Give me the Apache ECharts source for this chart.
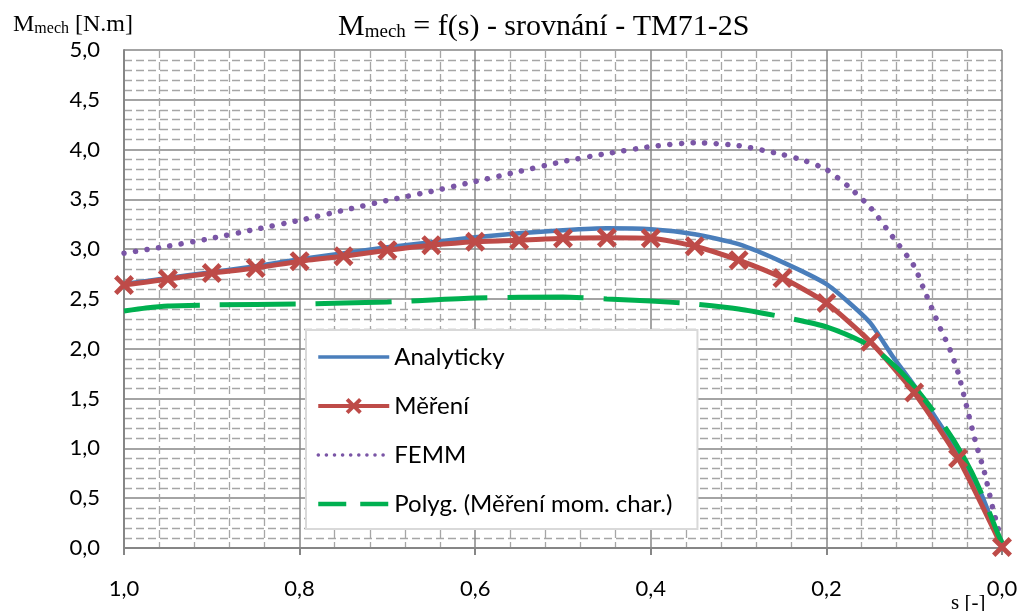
<!DOCTYPE html>
<html>
<head>
<meta charset="utf-8">
<script src="https://cdn.jsdelivr.net/npm/echarts@6/dist/echarts.min.js"></script>
<style>html,body{margin:0;padding:0;background:#fff}#c{width:1023px;height:611px}</style>
</head>
<body>
<div id="c"></div>
<script>
// ---- data ----
const xTicks = [0, 0.2, 0.4, 0.6, 0.8, 1.0];
const yTicks = [0, 0.5, 1, 1.5, 2, 2.5, 3, 3.5, 4, 4.5, 5];

const analytickyS = [1.0,0.95,0.9,0.85,0.8,0.75,0.7,0.65,0.6,0.55,0.5,0.45,0.4,0.35,0.3,0.25,0.2,0.175,0.15,0.125,0.1,0.075,0.05,0.025,0.0];
const analytickyM = [2.65,2.71,2.77,2.83,2.90,2.96,3.02,3.07,3.12,3.16,3.19,3.21,3.20,3.15,3.05,2.87,2.65,2.47,2.26,1.93,1.63,1.30,0.96,0.57,0.0];

const mereniS = [1.0,0.95,0.9,0.85,0.8,0.75,0.7,0.65,0.6,0.55,0.5,0.45,0.4,0.35,0.3,0.25,0.2,0.15,0.1,0.05,0.0];
const mereniM = [2.64,2.70,2.76,2.81,2.88,2.93,2.99,3.04,3.075,3.09,3.11,3.115,3.11,3.03,2.89,2.71,2.46,2.07,1.56,0.90,0.01];

const femmS = [1.0,0.95,0.9,0.85,0.8,0.75,0.7,0.65,0.6,0.55,0.5,0.45,0.4,0.35,0.3,0.25,0.225,0.2,0.175,0.15,0.125,0.1,0.09,0.08,0.07,0.06,0.05,0.04,0.03,0.02,0.01,0.005,0.0];
const femmM = [2.96,3.03,3.11,3.20,3.29,3.39,3.49,3.58,3.68,3.78,3.88,3.96,4.03,4.07,4.04,3.95,3.89,3.80,3.63,3.42,3.13,2.83,2.62,2.41,2.20,2.01,1.76,1.41,1.06,0.76,0.38,0.22,0.02];

const polygS = [1.0,0.975,0.95,0.9,0.8,0.7,0.6,0.5,0.45,0.4,0.35,0.3,0.25,0.2,0.15,0.12,0.1,0.075,0.055,0.035,0.02,0.005,0.0];
const polygM = [2.38,2.41,2.43,2.44,2.45,2.47,2.51,2.52,2.50,2.48,2.45,2.40,2.32,2.22,2.03,1.81,1.62,1.34,1.08,0.77,0.48,0.15,0.05];

const seriesNames = ['Analyticky', 'Měření', 'FEMM', 'Polyg. (Měření mom. char.)'];

function pairs(xs, ys) { return xs.map((x, i) => [x, ys[i]]); }
function fmt(v) { return v.toFixed(1).replace('.', ','); }

const crossPath = 'path://M0,17 L17,0 L50,33 L83,0 L100,17 L67,50 L100,83 L83,100 L50,67 L17,100 L0,83 L33,50 Z';
const sans = 'Lato';
const serif = 'Liberation Serif';

const chart = echarts.init(document.getElementById('c'), null, {renderer: 'canvas'});
chart.setOption({
  animation: false,
  backgroundColor: '#fff',
  title: [
    {
      text: '{m|M}{s|mech}{m| = f(s) - srovnání - TM71-2S}',
      left: 333, top: 3,
      textStyle: {
        rich: {
          m: {fontFamily: serif, fontSize: 30, fontWeight: 'normal', color: '#000', lineHeight: 34, verticalAlign: 'bottom'},
          s: {fontFamily: serif, fontSize: 19, fontWeight: 'normal', color: '#000', lineHeight: 17, verticalAlign: 'bottom'}
        }
      }
    },
    {
      text: '{m|M}{s|mech}{m| [N.m]}',
      left: 8, top: 4,
      textStyle: {
        rich: {
          m: {fontFamily: serif, fontSize: 24, fontWeight: 'normal', color: '#000', lineHeight: 28, verticalAlign: 'bottom'},
          s: {fontFamily: serif, fontSize: 16, fontWeight: 'normal', color: '#000', lineHeight: 14, verticalAlign: 'bottom'}
        }
      }
    },
    {
      text: 's [-]',
      left: 946, top: 588,
      textStyle: {fontFamily: serif, fontSize: 21, fontWeight: 'normal', color: '#000'}
    }
  ],
  grid: {left: 124, right: 21, top: 50, bottom: 63, containLabel: false},
  legend: {
    orient: 'vertical',
    left: 306, top: 330,
    itemWidth: 71, itemHeight: 20, itemGap: 25,
    padding: [15, 25, 13, 10],
    backgroundColor: '#fff',
    borderColor: '#d9d9d9', borderWidth: 2,
    textStyle: {fontFamily: sans, fontSize: 24, color: '#000'},
    data: [
      {name: seriesNames[0], lineStyle: {width: 3.5}, itemStyle: {opacity: 0}},
      {name: seriesNames[1], lineStyle: {width: 4}},
      {name: seriesNames[2], lineStyle: {width: 3.5, type: [0.1, 8], cap: 'round'}, itemStyle: {opacity: 0}},
      {name: seriesNames[3], lineStyle: {width: 4.5, type: [28, 14]}, itemStyle: {opacity: 0}}
    ]
  },
  xAxis: {
    type: 'value', min: 0, max: 1, interval: 0.2, inverse: true,
    axisLine: {show: true, onZero: false, lineStyle: {color: '#868686', width: 2}},
    axisTick: {show: true, inside: false, length: 7, lineStyle: {color: '#868686', width: 2}},
    axisLabel: {margin: 30, formatter: fmt, fontFamily: sans, fontSize: 22, color: '#000'},
    splitLine: {show: true, lineStyle: {color: '#868686', width: 1.5}},
    minorTick: {show: false, splitNumber: 5},
    minorSplitLine: {show: true, lineStyle: {color: '#a6a6a6', width: 1.3, type: [8, 4]}}
  },
  yAxis: {
    type: 'value', min: 0, max: 5, interval: 0.5,
    axisLine: {show: true, onZero: false, lineStyle: {color: '#868686', width: 2}},
    axisTick: {show: false},
    axisLabel: {margin: 24, formatter: fmt, fontFamily: sans, fontSize: 22, color: '#000', padding: [6, 0, 0, 0]},
    splitLine: {show: true, lineStyle: {color: '#868686', width: 1.5}},
    minorTick: {show: false, splitNumber: 5},
    minorSplitLine: {show: true, lineStyle: {color: '#a6a6a6', width: 1.3, type: [8, 4]}}
  },
  series: [
    {
      name: seriesNames[0], type: 'line', data: pairs(analytickyS, analytickyM),
      symbol: 'none', smooth: 0.2,
      lineStyle: {color: '#4a7ebb', width: 4.5}, itemStyle: {color: '#4a7ebb'}
    },
    {
      name: seriesNames[1], type: 'line', data: pairs(mereniS, mereniM),
      symbol: crossPath, symbolSize: 20, showSymbol: true, smooth: 0.2,
      lineStyle: {color: '#be4b48', width: 5}, itemStyle: {color: '#be4b48'}
    },
    {
      name: seriesNames[2], type: 'line', data: pairs(femmS, femmM),
      symbol: 'none', smooth: 0.2,
      lineStyle: {color: '#7a55a6', width: 5.5, type: [0.1, 11.5], cap: 'round'}, itemStyle: {color: '#7a55a6'}
    },
    {
      name: seriesNames[3], type: 'line', data: pairs(polygS, polygM),
      symbol: 'none', smooth: 0.2,
      lineStyle: {color: '#00b050', width: 5, type: [76, 20]}, itemStyle: {color: '#00b050'}
    }
  ]
});
</script>
</body>
</html>
